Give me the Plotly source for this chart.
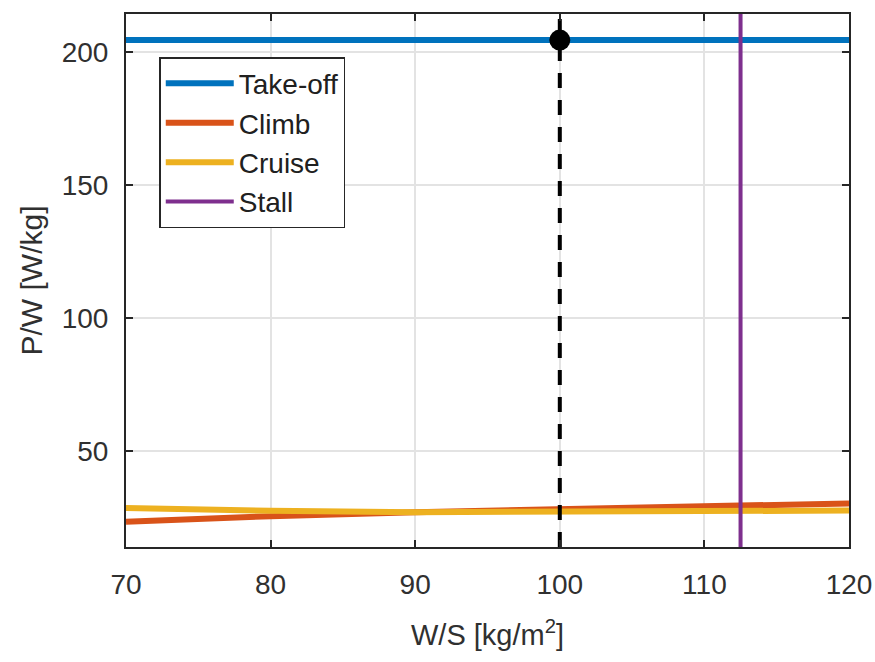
import plotly.graph_objects as go

# Data
ws = [70, 80, 90, 100, 110, 120]
takeoff = [204.5, 204.5, 204.5, 204.5, 204.5, 204.5]
climb = [23.4, 25.5, 27.0, 28.2, 29.3, 30.3]
cruise = [28.6, 27.5, 27.0, 27.1, 27.3, 27.6]
stall_ws = 112.5
design_ws = 100
design_pw = 204.5

x_range = [70, 120]
y_range = [13.9, 214.3]
x_ticks = [70, 80, 90, 100, 110, 120]
y_ticks = [50, 100, 150, 200]

FONT = "Arial, Liberation Sans, sans-serif"
AX = "#262626"

fig = go.Figure()
fig.add_trace(go.Scatter(x=ws, y=takeoff, mode="lines", name="Take-off",
                         line=dict(color="#0072BD", width=6)))
fig.add_trace(go.Scatter(x=ws, y=climb, mode="lines", name="Climb",
                         line=dict(color="#D95319", width=6)))
fig.add_trace(go.Scatter(x=ws, y=cruise, mode="lines", name="Cruise",
                         line=dict(color="#EDB120", width=6)))
fig.add_trace(go.Scatter(x=[stall_ws, stall_ws], y=y_range, mode="lines", name="Stall",
                         line=dict(color="#7E2F8E", width=4)))
fig.add_trace(go.Scatter(x=[design_ws, design_ws], y=y_range, mode="lines",
                         showlegend=False,
                         line=dict(color="black", width=4, dash="15px,12px")))
fig.add_trace(go.Scatter(x=[design_ws], y=[design_pw], mode="markers",
                         showlegend=False,
                         marker=dict(color="black", size=21)))

axis_common = dict(
    showline=True, linecolor=AX, linewidth=2, mirror="ticks",
    ticks="inside", ticklen=7, tickcolor=AX, tickwidth=1.5,
    showgrid=True, gridcolor="#e3e3e3", gridwidth=1.5,
    zeroline=False, automargin=False,
    tickfont=dict(family=FONT, size=28, color="#303030"),
)

fig.update_xaxes(range=x_range, tickvals=x_ticks, ticklabelstandoff=11,
                 title=dict(text="W/S [kg/m<sup>2</sup>]", standoff=26,
                            font=dict(family=FONT, size=29, color="#303030")),
                 **axis_common)
fig.update_yaxes(range=y_range, tickvals=y_ticks, ticklabelstandoff=10,
                 title=dict(text="P/W [W/kg]", standoff=10,
                            font=dict(family=FONT, size=30, color="#303030")),
                 **axis_common)

fig.update_layout(
    width=875, height=662,
    margin=dict(l=126, r=26, t=14, b=115),
    paper_bgcolor="white", plot_bgcolor="white",
    showlegend=True,
    legend=dict(x=0.046, y=0.919, xanchor="left", yanchor="top",
                bgcolor="white", bordercolor=AX, borderwidth=1.5,
                font=dict(family=FONT, size=28, color="#202020"),
                itemwidth=68,
                tracegroupgap=0),
)

fig.write_html("out.html")
